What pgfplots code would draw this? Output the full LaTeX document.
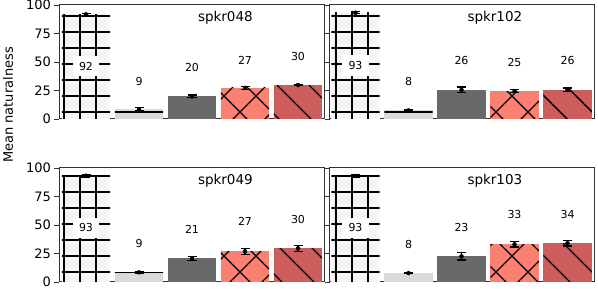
\documentclass[border=0pt]{standalone}
\usepackage{pgfplots}
\usepackage{pgfplotstable}
\pgfplotsset{compat=1.18}
\usepackage{fontspec}
\setmainfont{DejaVu Sans}
\usetikzlibrary{patterns.meta}
\definecolor{cA}{HTML}{F5F5F5}
\definecolor{cB}{HTML}{D9D9D9}
\definecolor{cC}{HTML}{696969}
\definecolor{cD}{HTML}{FA8072}
\definecolor{cE}{HTML}{CD5C5C}

% x: bar position, y: mean, e: error, ly: label height, lab: label text
\pgfplotstableread{
x y e ly lab
0 91.8 0.8 46.3 92
1 8.5 1.6 33.3 9
2 19.8 1.2 45.6 20
3 27.3 1.4 51.8 27
4 29.8 0.6 54.4 30
}\spkrA
\pgfplotstableread{
x y e ly lab
0 93.2 0.8 46.8 93
1 7.5 0.6 32.7 8
2 25.5 2.5 50.9 26
3 24.5 1.5 49.4 25
4 25.8 1.5 50.9 26
}\spkrB
\pgfplotstableread{
x y e ly lab
0 93.2 1.2 47.4 93
1 8.5 0.6 33.9 9
2 20.7 1.8 46.5 21
3 26.8 2.8 52.9 27
4 29.5 2.7 55.0 30
}\spkrC
\pgfplotstableread{
x y e ly lab
0 93.0 1.0 47.6 93
1 7.8 0.6 33.3 8
2 22.5 3.3 48.0 23
3 33.0 2.3 58.8 33
4 34.0 2.4 59.6 34
}\spkrD

\pgfplotsset{
  panel/.style={
    scale only axis, width=265pt, height=114pt,
    anchor=south west,
    xmin=-0.5, xmax=4.5, ymin=0, ymax=100,
    xtick=\empty,
    tick align=outside, major tick length=5pt,
    tick style={line width=0.9pt, black!80},
    axis line style={line width=1pt, black!80},
    tick label style={font=\fontsize{13}{15}\selectfont},
    /pgf/number format/assume math mode=true,
    every axis title shift=0pt,
    title style={at={(0.626,0.89)}, anchor=center, font=\fontsize{13.5}{16}\selectfont},
  },
  bbase/.style={ybar, bar width=0.915, bar shift=0pt, draw=none},
  b0/.style={bbase, fill=cA, postaction={pattern={Hatch[angle=0,distance=16pt,yshift=1pt,line width=1.3pt]}, pattern color=black}},
  b1/.style={bbase, fill=cB, postaction={pattern={Lines[angle=0,distance=16pt,yshift=1pt,line width=1.3pt]}, pattern color=black}},
  b2/.style={bbase, fill=cC},
  b3/.style={bbase, fill=cD, postaction={pattern={Hatch[angle=45,distance=22.63pt,yshift=1pt,line width=1.3pt]}, pattern color=black}},
  b4/.style={bbase, fill=cE, postaction={pattern={Lines[angle=-45,distance=22.63pt,yshift=1pt,line width=1.3pt]}, pattern color=black}},
}

\newcommand{\panel}[5]{%
\begin{axis}[panel, at={(#2,#3)}, title={#4}, #5]
\addplot[b0, restrict x to domain=-0.5:0.5] table[x=x, y=y] {#1};
\addplot[b1, restrict x to domain=0.5:1.5] table[x=x, y=y] {#1};
\addplot[b2, restrict x to domain=1.5:2.5] table[x=x, y=y] {#1};
\addplot[b3, restrict x to domain=2.5:3.5] table[x=x, y=y] {#1};
\addplot[b4, restrict x to domain=3.5:4.5] table[x=x, y=y] {#1};
\addplot[only marks, mark=none, draw=black,
  error bars/.cd, y dir=both, y explicit,
  error bar style={draw=black, line width=1.3pt},
  error mark options={rotate=90, mark size=4.5pt, line width=1.3pt, draw=black}]
  table[x=x, y=y, y error=e] {#1};
\addplot[only marks, mark=none, nodes near coords, point meta=explicit symbolic,
  nodes near coords align={center},
  every node near coord/.append style={font=\fontsize{11}{13}\selectfont, text=black},
  restrict x to domain=0.5:4.5] table[x=x, y=ly, meta=lab] {#1};
\addplot[only marks, mark=none, nodes near coords, point meta=explicit symbolic,
  nodes near coords align={center},
  every node near coord/.append style={font=\fontsize{11}{13}\selectfont, text=black, fill=white, inner xsep=6.5pt, inner ysep=6pt},
  restrict x to domain=-0.5:0.5] table[x=x, y=ly, meta=lab] {#1};
\end{axis}}

\begin{document}
\begin{tikzpicture}
\path[use as bounding box] (0,0) rectangle (598pt,289pt);
\panel{\spkrA}{59.5pt}{170pt}{spkr048}{ytick={0,25,50,75,100}}
\panel{\spkrB}{329pt}{170pt}{spkr102}{ytick=\empty}
\panel{\spkrC}{59.5pt}{7pt}{spkr049}{ytick={0,25,50,75,100}}
\panel{\spkrD}{329pt}{7pt}{spkr103}{ytick=\empty}
\node[rotate=90, font=\fontsize{13}{15}\selectfont] at (8pt,184pt) {Mean naturalness};
\end{tikzpicture}
\end{document}
